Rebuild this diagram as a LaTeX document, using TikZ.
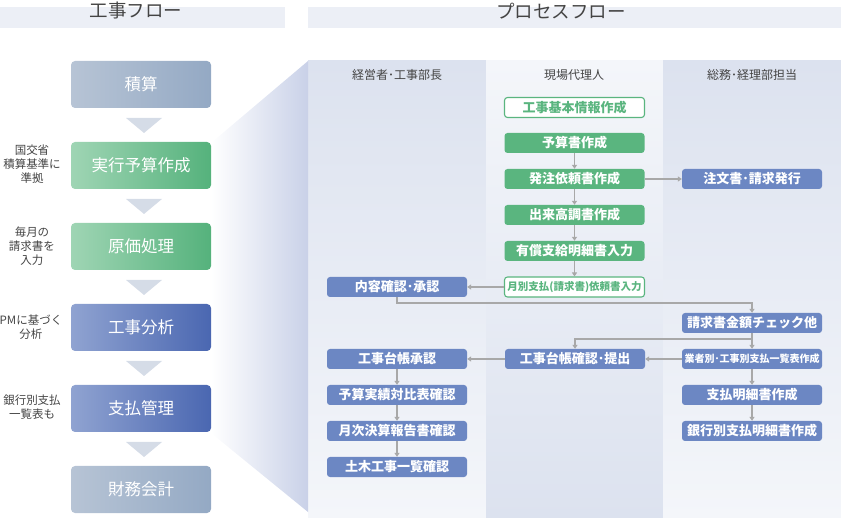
\documentclass[tikz,border=0pt]{standalone}
\usepackage{fontspec}
\setmainfont{Noto Sans CJK JP}
\usepackage{tikz}
\usetikzlibrary{arrows.meta,positioning}
\usepackage{xcolor}
\definecolor{flowgreyA}{HTML}{B7C4D5}
\definecolor{flowgreyB}{HTML}{94A9C4}
\definecolor{flowgreenA}{HTML}{9FD5B4}
\definecolor{flowgreenB}{HTML}{55B27C}
\definecolor{flowblueA}{HTML}{90A3D1}
\definecolor{flowblueB}{HTML}{4A67B1}
\definecolor{tricolor}{HTML}{D5DCE7}
\definecolor{procgreen}{HTML}{5AB57F}
\definecolor{procblue}{HTML}{6C87C3}
\definecolor{arrowgrey}{HTML}{A8A8A8}
\definecolor{bgdark}{HTML}{DCE2EF}
\definecolor{bglight}{HTML}{F4F6FA}
\definecolor{headbar}{HTML}{ECEFF6}
\definecolor{funnelblue}{HTML}{C9D1E8}
\definecolor{labeltext}{HTML}{444444}

\begin{document}
\begin{tikzpicture}[x=1pt,y=-1pt,
    flowbox/.style={rounded corners=4pt,minimum width=140pt,minimum height=47pt,inner sep=0pt,
      text=white,font=\fontsize{16.5}{19}\selectfont},
    greyflow/.style={flowbox,left color=flowgreyA,right color=flowgreyB},
    greenflow/.style={flowbox,left color=flowgreenA,right color=flowgreenB},
    blueflow/.style={flowbox,left color=flowblueA,right color=flowblueB},
    sidenote/.style={align=center,text=labeltext,font=\fontsize{11.5}{14}\selectfont},
    procbox/.style={rounded corners=3pt,minimum width=140pt,minimum height=20pt,inner sep=0pt,
      font=\fontsize{13}{14}\selectfont\bfseries},
    greenbox/.style={procbox,fill=procgreen,text=white},
    outlinebox/.style={procbox,fill=white,draw=procgreen,line width=1.1pt,text=procgreen},
    bluebox/.style={procbox,fill=procblue,text=white},
    colhead/.style={text=labeltext,font=\fontsize{12}{14}\selectfont},
    flowarrow/.style={draw=arrowgrey,line width=1.1pt,-{Triangle[width=5pt,length=4pt]}}]
  \useasboundingbox (0,0) rectangle (841,518);
  % headers
  \fill[headbar] (0,7) rectangle (285,28);
  \fill[headbar] (308,7) rectangle (841,28);
  \node[text=labeltext,font=\fontsize{18.5}{20}\selectfont] (kojiflow) at (136,11) {工事フロー};
  \node[text=labeltext,font=\fontsize{18.5}{20}\selectfont] (procflow) at (561,11) {プロセスフロー};
  % columns and funnel
  \shade[top color=bgdark,bottom color=bglight] (308,61) rectangle (486,518);
  \shade[top color=bglight,bottom color=bgdark] (486,61) rectangle (663,518);
  \shade[top color=bgdark,bottom color=bglight] (663,61) rectangle (841,518);
  \shade[left color=white,right color=funnelblue] (211,143) -- (308,61) -- (308,512) -- (211,433) -- cycle;
  \node[colhead] (hkeiei) at (397,75) {経営者･工事部長};
  \node[colhead] (hgenba) at (574,75) {現場代理人};
  \node[colhead] (hsomu) at (752,75) {総務･経理部担当};
  % work flow
  \node[greyflow] (sekisan) at (141,84.5) {積算};
  \node[greenflow] (jikko) at (141,165.5) {実行予算作成};
  \node[greenflow] (genka) at (141,246.5) {原価処理};
  \node[blueflow] (bunseki) at (141,327.5) {工事分析};
  \node[blueflow] (shiharai) at (141,408.5) {支払管理};
  \node[greyflow] (zaimu) at (141,489.5) {財務会計};
  \foreach \y in {118,199,280,361,442}
    \fill[tricolor] (126,\y) -- (162,\y) -- (144,\y+15) -- cycle;
  \node[sidenote] (n1) at (32,164) {国交省\\積算基準に\\準拠};
  \node[sidenote] (n2) at (32,246) {毎月の\\請求書を\\入力};
  \node[sidenote] (n3) at (31,327) {PMに基づく\\分析};
  \node[sidenote] (n4) at (32,407) {銀行別支払\\一覧表も};
  % process flow
  \node[outlinebox] (kihon) at (574.5,107.5) {工事基本情報作成};
  \node[greenbox] (yosansho) at (574.5,143) {予算書作成};
  \node[greenbox] (hatchu) at (574.5,179) {発注依頼書作成};
  \node[greenbox] (dekidaka) at (574.5,215) {出来高調書作成};
  \node[greenbox] (yusho) at (574.5,251) {有償支給明細書入力};
  \node[outlinebox,font=\fontsize{10.5}{12}\selectfont\bfseries] (getsubetsu) at (574.5,287) {月別支払(請求書)依頼書入力};
  \node[bluebox] (chumon) at (752,179) {注文書･請求発行};
  \node[bluebox] (naiyo) at (397,287) {内容確認･承認};
  \node[bluebox] (check) at (752,323) {請求書金額チェック他};
  \node[bluebox,font=\fontsize{10}{11}\selectfont\bfseries] (gyosha) at (752,359) {業者別･工事別支払一覧表作成};
  \node[bluebox] (meisai) at (752,395) {支払明細書作成};
  \node[bluebox] (ginko) at (752,431) {銀行別支払明細書作成};
  \node[bluebox] (daicho) at (575,359) {工事台帳確認･提出};
  \node[bluebox] (shonin) at (397,359) {工事台帳承認};
  \node[bluebox] (taihi) at (397,395) {予算実績対比表確認};
  \node[bluebox] (kessan) at (397,431) {月次決算報告書確認};
  \node[bluebox] (doboku) at (397,467) {土木工事一覧確認};
  \coordinate (bend1) at (397,303);
  \coordinate (bend2) at (752,339);
  \draw[flowarrow] (yosansho) -- (hatchu);
  \draw[flowarrow] (hatchu) -- (dekidaka);
  \draw[flowarrow] (dekidaka) -- (yusho);
  \draw[flowarrow] (yusho) -- (getsubetsu);
  \draw[flowarrow] (hatchu) -- (chumon);
  \draw[flowarrow] (getsubetsu) -- (naiyo);
  \draw[flowarrow] (naiyo.south) -- (bend1) -| (check.north);
  \draw[flowarrow] (check) -- (gyosha);
  \draw[flowarrow] (bend2) -| (daicho.north);
  \draw[flowarrow] (gyosha) -- (daicho);
  \draw[flowarrow] (gyosha) -- (meisai);
  \draw[flowarrow] (meisai) -- (ginko);
  \draw[flowarrow] (daicho) -- (shonin);
  \draw[flowarrow] (shonin) -- (taihi);
  \draw[flowarrow] (taihi) -- (kessan);
  \draw[flowarrow] (kessan) -- (doboku);
\end{tikzpicture}
\end{document}
